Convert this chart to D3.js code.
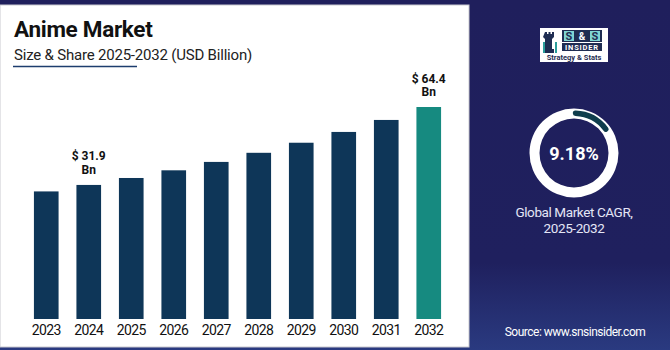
<!DOCTYPE html>
<html>
<head>
<meta charset="utf-8">
<script src="https://cdn.jsdelivr.net/npm/d3@7"></script>
<style>
  body { margin: 0; background: #1f1f5c; }
  svg { display: block; font-family: Roboto, "Noto Sans", sans-serif; }
</style>
</head>
<body>
<script>
// data
const years = ["2023", "2024", "2025", "2026", "2027", "2028", "2029", "2030", "2031", "2032"];
const values = [29.2, 31.9, 34.8, 38.0, 41.5, 45.3, 49.5, 54.0, 59.0, 64.4];
const labelled = {"2024": "$ 31.9", "2032": "$ 64.4"};
const cagr = "9.18%";

const W = 670, H = 350;
let svg = d3.select("body").append("svg").attr("width", W).attr("height", H);

// background gradient on the right
let defs = svg.append("defs");
let grad = defs.append("linearGradient").attr("id", "bg").attr("x1", 0).attr("y1", 0).attr("x2", 0).attr("y2", 1);
grad.append("stop").attr("offset", "0%").attr("stop-color", "#1f1f5c");
grad.append("stop").attr("offset", "75%").attr("stop-color", "#1f205e");
grad.append("stop").attr("offset", "100%").attr("stop-color", "#2a3a80");
svg.append("rect").attr("width", W).attr("height", H).attr("fill", "url(#bg)");

// white panel
svg.append("rect").attr("x", 0).attr("y", 5).attr("width", 469).attr("height", 342)
   .attr("fill", "#fff").attr("stroke", "#c9c9cf").attr("stroke-width", 1);

// title
svg.append("text").attr("x", 14).attr("y", 37).text("Anime Market")
   .style("font-size", "22.5px").style("font-weight", "bold").attr("fill", "#111").attr("letter-spacing", "-0.3");
svg.append("text").attr("x", 14).attr("y", 60).text("Size & Share 2025-2032 (USD Billion)")
   .style("font-size", "15px").attr("fill", "#222").attr("letter-spacing", "-0.2");
svg.append("line").attr("x1", 13).attr("x2", 137).attr("y1", 66.5).attr("y2", 66.5)
   .attr("stroke", "#1d3d6e").attr("stroke-width", 1.5);

// scales
let x = d3.scaleBand().domain(years).range([25, 450]).paddingInner(0.42).paddingOuter(0.21);
let y = d3.scaleLinear().domain([-24, 64.4]).range([319, 107]);

let g = svg.append("g");
g.selectAll("rect.bar").data(years).enter().append("rect")
   .attr("class", "bar")
   .attr("x", d => x(d))
   .attr("width", x.bandwidth())
   .attr("y", (d, i) => y(values[i]))
   .attr("height", (d, i) => y(-24) - y(values[i]))
   .attr("fill", d => d === "2032" ? "#168a80" : "#0e3658");

// year axis labels
g.selectAll("text.year").data(years).enter().append("text")
   .attr("class", "year")
   .attr("x", d => x(d) + x.bandwidth() / 2)
   .attr("y", 335)
   .attr("text-anchor", "middle")
   .style("font-size", "14px")
   .attr("letter-spacing", "-0.6")
   .attr("fill", "#111")
   .text(d => d);

// value labels
years.forEach((yr, i) => {
  if (!labelled[yr]) return;
  let cx = x(yr) + x.bandwidth() / 2, top = y(values[i]);
  let t = g.append("text").attr("text-anchor", "middle").attr("fill", "#111")
     .style("font-size", "12px").style("font-weight", "bold");
  t.append("tspan").attr("x", cx).attr("y", top - 24.5).text(labelled[yr]);
  t.append("tspan").attr("x", cx).attr("y", top - 11).text("Bn");
});

// logo
let logo = svg.append("g").attr("transform", "translate(540,28)");
logo.append("rect").attr("width", 68).attr("height", 34).attr("fill", "#fff");
// rook icon
logo.append("path").attr("d", "M5,4 h2 v2 h1.5 v-2 h2 v2 h1.5 v-2 h2 v5 l-2,2 v10 h2 v4 h-11 v-4 h2 v-10 l-2,-2 z")
   .attr("fill", "#1f2d52");
logo.append("rect").attr("x", 3).attr("y", 14).attr("width", 2).attr("height", 11).attr("fill", "#2a9d9a");
logo.append("rect").attr("x", 15).attr("y", 14).attr("width", 2).attr("height", 11).attr("fill", "#2a9d9a");
// S & S boxes
logo.append("rect").attr("x", 22).attr("y", 2).attr("width", 40).attr("height", 12).attr("fill", "#1f2d52");
logo.append("rect").attr("x", 24).attr("y", 3).attr("width", 10).attr("height", 10).attr("fill", "#7fd6d3");
logo.append("rect").attr("x", 50).attr("y", 3).attr("width", 10).attr("height", 10).attr("fill", "#7fd6d3");
logo.append("text").attr("x", 29).attr("y", 12).attr("text-anchor", "middle").text("S")
   .style("font-size", "11px").style("font-weight", "bold").attr("fill", "#1f2d52");
logo.append("text").attr("x", 42).attr("y", 12).attr("text-anchor", "middle").text("&")
   .style("font-size", "10px").style("font-weight", "bold").attr("fill", "#fff");
logo.append("text").attr("x", 55).attr("y", 12).attr("text-anchor", "middle").text("S")
   .style("font-size", "11px").style("font-weight", "bold").attr("fill", "#1f2d52");
logo.append("rect").attr("x", 22).attr("y", 15).attr("width", 40).attr("height", 8).attr("fill", "#1f2d52");
logo.append("text").attr("x", 42).attr("y", 22).attr("text-anchor", "middle").text("INSIDER")
   .style("font-size", "7.5px").style("font-weight", "bold").attr("letter-spacing", "0.8").attr("fill", "#fff");
logo.append("text").attr("x", 34).attr("y", 31.5).attr("text-anchor", "middle").text("Strategy & Stats")
   .style("font-size", "7.5px").style("font-weight", "bold").attr("fill", "#1f2d52");

// donut
const cx = 574, cy = 153;
let donut = svg.append("g").attr("transform", `translate(${cx},${cy})`);
donut.append("path").attr("d", d3.arc()({innerRadius: 34.5, outerRadius: 44.5, startAngle: 0, endAngle: 2 * Math.PI}))
   .attr("fill", "#fff");
donut.append("path").attr("d", d3.arc().cornerRadius(3)({innerRadius: 37, outerRadius: 42.5,
      startAngle: -0.03, endAngle: 57 * Math.PI / 180}))
   .attr("fill", "#0f3d4c");
donut.append("text").attr("text-anchor", "middle").attr("y", 7).text(cagr)
   .style("font-size", "18px").style("font-weight", "bold").attr("fill", "#fff");

svg.append("text").attr("x", cx).attr("y", 217).attr("text-anchor", "middle").text("Global Market CAGR,")
   .style("font-size", "13.5px").attr("letter-spacing", "-0.4").attr("fill", "#e4e6f6");
svg.append("text").attr("x", cx).attr("y", 233).attr("text-anchor", "middle").text("2025-2032")
   .style("font-size", "13.5px").attr("letter-spacing", "-0.4").attr("fill", "#e4e6f6");

svg.append("text").attr("x", 575).attr("y", 336).attr("text-anchor", "middle").text("Source: www.snsinsider.com")
   .style("font-size", "12px").attr("letter-spacing", "-0.5").attr("fill", "#fff");
</script>
</body>
</html>
